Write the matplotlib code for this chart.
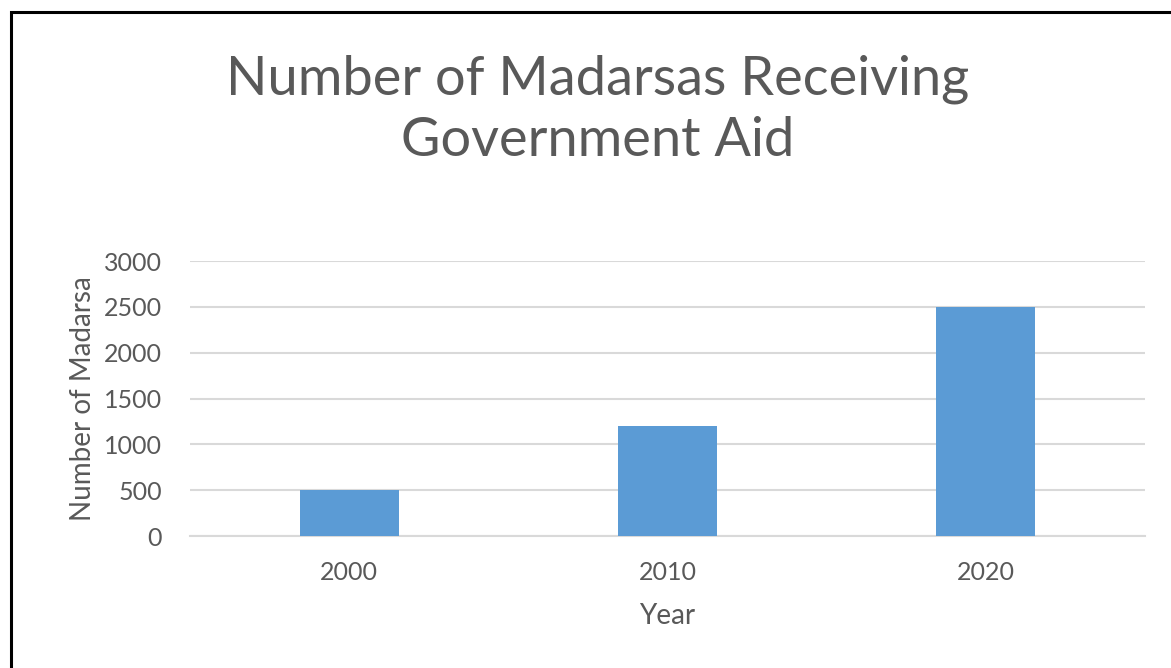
import matplotlib.pyplot as plt
from matplotlib.patches import Rectangle

plt.rcParams['font.family'] = ['Lato', 'DejaVu Sans']

years = ['2000', '2010', '2020']
madarsas = [500, 1200, 2500]
yticks = [0, 500, 1000, 1500, 2000, 2500, 3000]

text_color = '#595959'
bar_color = '#5b9bd5'
grid_color = '#d9d9d9'

W, H = 1171, 668
fig = plt.figure(figsize=(W / 100, H / 100), dpi=100)
ax = fig.add_axes([190 / W, 1 - 536 / H, (1145 - 190) / W, (536 - 261) / H])

x = range(len(years))
ax.bar(x, madarsas, width=0.31, color=bar_color, zorder=3)

ax.set_xlim(-0.5, len(years) - 0.5)
ax.set_ylim(0, 3000)
ax.set_yticks(yticks)
ax.set_xticks(list(x))
ax.set_xticklabels(years)
ax.yaxis.grid(True, color=grid_color, linewidth=1.5, zorder=0)
for side in ['top', 'right', 'left']:
    ax.spines[side].set_visible(False)
ax.spines['bottom'].set_color(grid_color)
ax.spines['bottom'].set_linewidth(1.5)
ax.tick_params(length=0, labelsize=18, labelcolor=text_color)
ax.tick_params(axis='x', pad=18)
ax.tick_params(axis='y', pad=20)

ax.set_xlabel('Year', fontsize=20, color=text_color, labelpad=14)
ax.set_ylabel('Number of Madarsa', fontsize=20, color=text_color, labelpad=6)

fig.text(598 / W, 1 - 110 / H, 'Number of Madarsas Receiving\nGovernment Aid',
         ha='center', va='center', fontsize=39, color=text_color, linespacing=1.3)

# frame around the chart, running off the right and bottom edges
fig.patches.append(Rectangle((10.5 / W, -0.1), 1.2, 1 - 12.5 / H + 0.1,
                             transform=fig.transFigure, fill=False,
                             edgecolor='black', linewidth=2.2))

fig.savefig('out.png', dpi=100, facecolor='white')
